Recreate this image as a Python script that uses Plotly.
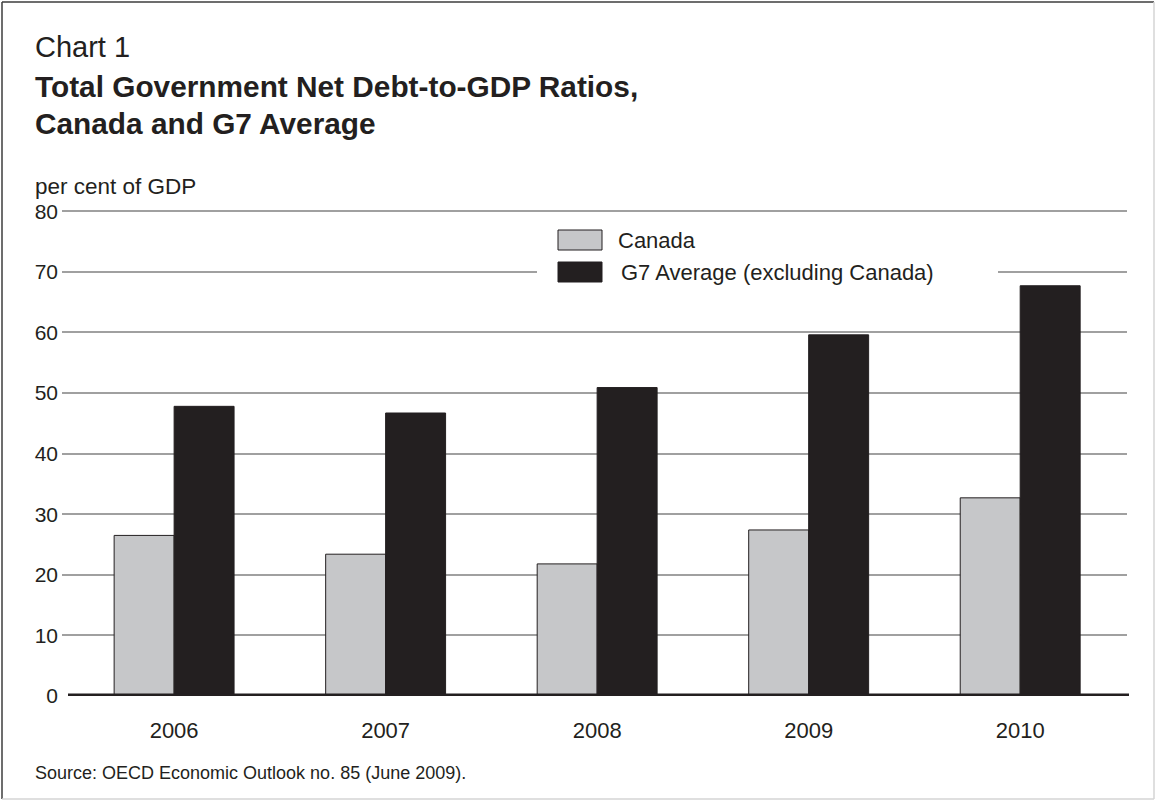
import plotly.graph_objects as go

years = ["2006", "2007", "2008", "2009", "2010"]
canada = [26.5, 23.4, 21.8, 27.4, 32.7]
g7 = [47.8, 46.7, 50.9, 59.6, 67.7]
y_ticks = [0, 10, 20, 30, 40, 50, 60, 70, 80]

series_names = ["Canada", "G7 Average (excluding Canada)"]
series_colors = ["#c6c7c9", "#231f20"]

W, H = 1155, 801
L, R, T, B = 62, 28, 210, 105
PW = W - L - R
PH = H - T - B


def px(x):
    return (x - L) / PW


def py(y):
    return (H - B - y) / PH


FONT = "Liberation Sans, Arial, Helvetica, sans-serif"
INK = "#231f20"

fig = go.Figure()
fig.add_trace(go.Bar(x=years, y=canada, name=series_names[0],
                     marker=dict(color=series_colors[0], line=dict(color=INK, width=1)),
                     showlegend=False))
fig.add_trace(go.Bar(x=years, y=g7, name=series_names[1],
                     marker=dict(color=series_colors[1], line=dict(color=INK, width=1)),
                     showlegend=False))

shapes = []
# zero line (thick)
shapes.append(dict(type="line", xref="paper", yref="y", x0=px(68), x1=px(1129), y0=0, y1=0,
                   line=dict(color=INK, width=5), layer="above"))
# legend background
shapes.append(dict(type="rect", xref="paper", yref="paper", x0=px(537), x1=px(998),
                   y0=py(290), y1=py(222), fillcolor="white", line=dict(width=0), layer="above"))
# legend swatches
shapes.append(dict(type="rect", xref="paper", yref="paper", x0=px(558), x1=px(602),
                   y0=py(250), y1=py(230), fillcolor=series_colors[0],
                   line=dict(color=INK, width=1), layer="above"))
shapes.append(dict(type="rect", xref="paper", yref="paper", x0=px(558), x1=px(602),
                   y0=py(282), y1=py(262), fillcolor=series_colors[1],
                   line=dict(color=INK, width=1), layer="above"))
# outer frame
shapes.append(dict(type="line", xref="paper", yref="paper", x0=px(2), x1=px(2), y0=py(799), y1=py(2),
                   line=dict(color="#3c3c3c", width=1.5)))
shapes.append(dict(type="line", xref="paper", yref="paper", x0=px(2), x1=px(1154), y0=py(2), y1=py(2),
                   line=dict(color="#3c3c3c", width=1.5)))
shapes.append(dict(type="line", xref="paper", yref="paper", x0=px(1154), x1=px(1154), y0=py(799), y1=py(2),
                   line=dict(color="#d4d4d4", width=1.5)))
shapes.append(dict(type="line", xref="paper", yref="paper", x0=px(2), x1=px(1154), y0=py(799), y1=py(799),
                   line=dict(color="#d4d4d4", width=1.5)))

annotations = [
    dict(text="Chart 1", x=px(33), y=py(47), xref="paper", yref="paper", xanchor="left",
         yanchor="middle", showarrow=False, font=dict(size=29, color=INK, family=FONT)),
    dict(text="<b>Total Government Net Debt-to-GDP Ratios,</b>", x=px(33), y=py(86), xref="paper",
         yref="paper", xanchor="left", yanchor="middle", showarrow=False,
         font=dict(size=29.8, color=INK, family=FONT)),
    dict(text="<b>Canada and G7 Average</b>", x=px(33), y=py(123), xref="paper",
         yref="paper", xanchor="left", yanchor="middle", showarrow=False,
         font=dict(size=29.8, color=INK, family=FONT)),
    dict(text="per cent of GDP", x=px(33), y=py(186), xref="paper", yref="paper", xanchor="left",
         yanchor="middle", showarrow=False, font=dict(size=22.5, color=INK, family=FONT)),
    dict(text="Source: OECD Economic Outlook no. 85 (June 2009).", x=px(33), y=py(773),
         xref="paper", yref="paper", xanchor="left", yanchor="middle", showarrow=False,
         font=dict(size=18, color=INK, family=FONT)),
    dict(text=series_names[0], x=px(616), y=py(240), xref="paper", yref="paper", xanchor="left",
         yanchor="middle", showarrow=False, font=dict(size=22, color=INK, family=FONT)),
    dict(text=series_names[1], x=px(619), y=py(272), xref="paper", yref="paper", xanchor="left",
         yanchor="middle", showarrow=False, font=dict(size=22, color=INK, family=FONT)),
]

fig.update_layout(
    width=W, height=H,
    margin=dict(l=L, r=R, t=T, b=B, pad=0),
    paper_bgcolor="white", plot_bgcolor="white",
    barmode="group", bargap=0.433, bargroupgap=0,
    font=dict(family=FONT, color=INK, size=20),
    shapes=shapes, annotations=annotations,
    xaxis=dict(type="category", range=[-0.53, 4.505], showgrid=False, showline=False,
               ticks="", tickfont=dict(size=22, color=INK), ticklabelstandoff=19),
    yaxis=dict(range=[0, 80.2], tickvals=y_ticks, showgrid=True, gridcolor="#a0a0a0", gridwidth=1.5,
               zeroline=False, showline=False, ticks="", tickfont=dict(size=21, color=INK),
               ticklabelstandoff=3),
)

fig.write_html("out.html", config={"displayModeBar": False},
               post_script="document.body.style.margin='0';document.body.style.overflow='hidden';")
